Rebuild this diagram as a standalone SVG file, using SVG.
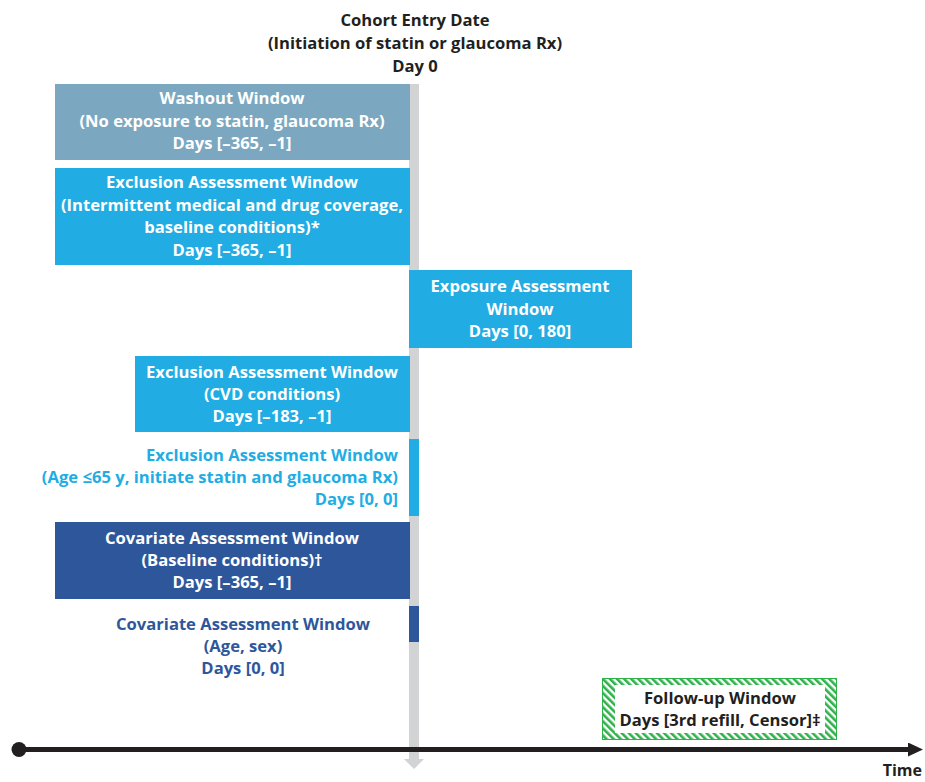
<svg xmlns="http://www.w3.org/2000/svg" width="925" height="782" viewBox="0 0 925 782">
  <defs>
    <pattern id="hatch" patternUnits="userSpaceOnUse" width="5" height="5" patternTransform="rotate(-45)">
      <rect width="5" height="5" fill="#ffffff"/>
      <rect width="2.6" height="5" fill="#2fb24a"/>
    </pattern>
    <marker id="arrowBlack" markerUnits="userSpaceOnUse" markerWidth="16" markerHeight="16" refX="2" refY="7" orient="auto">
      <path d="M0,0 L15,7 L0,14 Z" fill="#231f20"/>
    </marker>
  </defs>
  <style>
    text { font-family: "Open Sans", "Noto Sans", "DejaVu Sans", sans-serif; font-weight: 700; font-size: 16.6px; }
    .w { fill: #ffffff; }
    .d { fill: #231f20; }
    .c { text-anchor: middle; }
    .r { text-anchor: end; }
    .lb { fill: #21ade3; }
    .db { fill: #2e579b; }
    .washout { fill: #7ba8c0; }
    .excl { fill: #21ade3; }
    .cov { fill: #2e579b; }
  </style>
  <rect width="925" height="782" fill="#ffffff"/>

  <g id="connectors">
    <path d="M409,84 L419,84 L419,759 L424,759 L414,769 L404,759 L409,759 Z" fill="#d2d3d5"/>
  </g>

  <g id="title">
    <text class="d c" x="415" y="26">Cohort Entry Date</text>
    <text class="d c" x="415" y="49">(Initiation of statin or glaucoma Rx)</text>
    <text class="d c" x="415" y="72">Day 0</text>
  </g>

  <g id="washout">
    <rect class="washout" x="55" y="84" width="355" height="76"/>
    <text class="w c" x="232" y="104">Washout Window</text>
    <text class="w c" x="232" y="127">(No exposure to statin, glaucoma Rx)</text>
    <text class="w c" x="232" y="149">Days [–365, –1]</text>
  </g>

  <g id="exclusion-coverage">
    <rect class="excl" x="55" y="168" width="355" height="97"/>
    <text class="w c" x="232" y="188">Exclusion Assessment Window</text>
    <text class="w c" x="232" y="211">(Intermittent medical and drug coverage,</text>
    <text class="w c" x="232" y="233">baseline conditions)*</text>
    <text class="w c" x="232" y="256">Days [–365, –1]</text>
  </g>

  <g id="exposure">
    <rect class="excl" x="409" y="270" width="223" height="78"/>
    <text class="w c" x="520" y="292">Exposure Assessment</text>
    <text class="w c" x="520" y="315">Window</text>
    <text class="w c" x="520" y="337">Days [0, 180]</text>
  </g>

  <g id="exclusion-cvd">
    <rect class="excl" x="135" y="356" width="275" height="76"/>
    <text class="w c" x="272" y="378">Exclusion Assessment Window</text>
    <text class="w c" x="272" y="400">(CVD conditions)</text>
    <text class="w c" x="272" y="422">Days [–183, –1]</text>
  </g>

  <g id="exclusion-age">
    <rect class="excl" x="409" y="439" width="10" height="77"/>
    <text class="lb r" x="398" y="461">Exclusion Assessment Window</text>
    <text class="lb r" x="398" y="483">(Age ≤65 y, initiate statin and glaucoma Rx)</text>
    <text class="lb r" x="398" y="505">Days [0, 0]</text>
  </g>

  <g id="covariate-baseline">
    <rect class="cov" x="55" y="522" width="355" height="77"/>
    <text class="w c" x="232" y="544">Covariate Assessment Window</text>
    <text class="w c" x="232" y="566">(Baseline conditions)†</text>
    <text class="w c" x="232" y="588">Days [–365, –1]</text>
  </g>

  <g id="covariate-age">
    <rect class="cov" x="409" y="606" width="10" height="36"/>
    <text class="db c" x="243" y="630">Covariate Assessment Window</text>
    <text class="db c" x="243" y="652">(Age, sex)</text>
    <text class="db c" x="243" y="674">Days [0, 0]</text>
  </g>

  <g id="followup">
    <rect x="602.5" y="678.5" width="234" height="61" fill="url(#hatch)" stroke="#2fb24a" stroke-width="1"/>
    <rect x="615" y="685" width="210" height="48" fill="#ffffff"/>
    <text class="d c" x="720" y="704">Follow-up Window</text>
    <text class="d c" x="720" y="726">Days [3rd refill, Censor]‡</text>
  </g>

  <g id="timeline">
    <line x1="19" y1="749.5" x2="910" y2="749.5" stroke="#231f20" stroke-width="5" marker-end="url(#arrowBlack)"/>
    <circle cx="19" cy="749.5" r="7.5" fill="#231f20"/>
    <text class="d r" x="922" y="776" style="font-size:16px">Time</text>
  </g>
</svg>
